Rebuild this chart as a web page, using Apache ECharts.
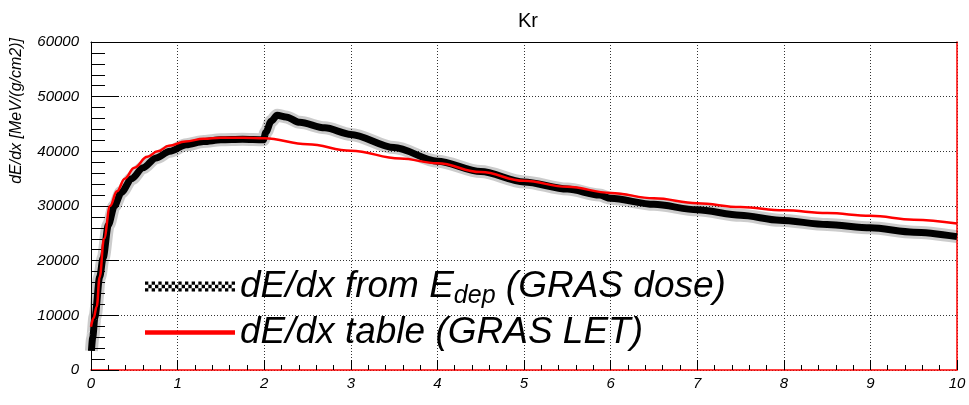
<!DOCTYPE html>
<html>
<head>
<meta charset="utf-8">
<title>Kr</title>
<script src="https://cdn.jsdelivr.net/npm/echarts@6/dist/echarts.min.js"></script>
<style>
  html, body { margin: 0; padding: 0; background: #fff; }
  #chart { width: 969px; height: 405px; }
</style>
</head>
<body>
<div id="chart"></div>
<script>
// axis ranges
const xMin = 0, xMax = 10, xStep = 1;
const yMin = 0, yMax = 60000, yStep = 10000;

// dE/dx from E_dep (GRAS dose) - centre of the scatter band
const doseEnergy = [0.005, 0.02, 0.046, 0.1, 0.14, 0.2, 0.27, 0.35, 0.47, 0.6, 0.75, 0.91, 1.1, 1.3, 1.5, 1.75, 1.99,
  2.02, 2.08, 2.15, 2.25, 2.41, 2.7, 3, 3.5, 4, 4.5, 5, 5.5, 5.87, 6, 6.5, 7, 7.5, 7.95, 8.5, 9, 9.5, 10];
const doseDedx = [3500, 6000, 9750, 17000, 20500, 26500, 30000, 32500, 35000, 37000, 38800, 40000, 41200, 41800, 42100, 42200, 42100,
  43500, 45500, 46600, 46300, 45300, 44300, 43100, 40700, 38200, 36300, 34400, 33100, 32000, 31400, 30300, 29300, 28300, 27400, 26600, 26000, 25200, 24400];

// dE/dx table (GRAS LET)
const letEnergy = [0, 0.03, 0.066, 0.1, 0.15, 0.22, 0.3, 0.39, 0.5, 0.65, 0.77, 0.9, 1.09, 1.3, 1.5, 1.75, 2,
  2.5, 3, 3.57, 4, 4.5, 5, 5.5, 6, 6.5, 7, 7.5, 8, 8.5, 9, 9.5, 10];
const letDedx = [7900, 9500, 11600, 17000, 24000, 30000, 32700, 35000, 37000, 39000, 40000, 41000, 41800, 42300, 42500, 42500, 42400,
  41300, 40100, 38700, 37800, 36200, 34600, 33500, 32400, 31400, 30500, 29800, 29200, 28700, 28200, 27500, 26800];

const doseData = doseEnergy.map((x, i) => [x, doseDedx[i]]);
const letData = letEnergy.map((x, i) => [x, letDedx[i]]);

const FONT = '"Liberation Sans", Arial, sans-serif';

function checkerPath(cols, rows) {
  let d = '';
  for (let r = 0; r < rows; r++) {
    for (let c = 0; c < cols; c++) {
      if ((r + c) % 2 === 0) d += 'M' + c + ' ' + r + 'h1v1h-1Z';
    }
  }
  return 'path://' + d;
}

const chart = echarts.init(document.getElementById('chart'), null, { renderer: 'canvas' });

chart.setOption({
  animation: false,
  backgroundColor: '#fff',
  title: {
    text: 'Kr',
    left: 513,
    top: 6,
    textStyle: { fontFamily: FONT, fontSize: 20, fontWeight: 'normal', color: '#000' }
  },
  grid: { left: 91, right: 12, top: 42, bottom: 35, outerBoundsMode: 'none' },
  legend: {
    orient: 'vertical',
    left: 140,
    top: 259,
    itemWidth: 90,
    itemHeight: 10,
    itemGap: 5,
    symbolKeepAspect: true,
    selectedMode: false,
    data: [
      { name: 'dose', icon: checkerPath(27, 3), itemStyle: { color: '#000', borderWidth: 0 } },
      { name: 'let', icon: 'path://M0 0h80v4h-80Z', itemStyle: { color: '#ff0000', borderWidth: 0 } }
    ],
    formatter: name => name === 'dose'
      ? '{t|dE/dx from E}{s|dep}{t| (GRAS dose)}'
      : '{t|dE/dx table (GRAS LET)}',
    textStyle: {
      fontFamily: FONT,
      rich: {
        t: { fontFamily: FONT, fontSize: 37, fontStyle: 'italic', color: '#000', lineHeight: 40 },
        s: { fontFamily: FONT, fontSize: 25, fontStyle: 'italic', color: '#000', lineHeight: 40, padding: [20, 0, 0, 0] }
      }
    }
  },
  xAxis: [{
    type: 'value',
    min: xMin, max: xMax, interval: xStep,
    name: 'Energy [MeV/nuc]',
    nameLocation: 'end',
    nameGap: 0,
    nameTextStyle: { fontFamily: FONT, fontSize: 14, fontStyle: 'italic', color: '#000',
      align: 'right', verticalAlign: 'top', padding: [19, 0, 0, 0] },
    axisLine: { onZero: false, lineStyle: { color: '#ff0000', width: 1.5 } },
    axisTick: { inside: true, length: 10, lineStyle: { color: '#000' } },
    minorTick: { show: true, splitNumber: 5, length: 5, lineStyle: { color: '#000' } },
    axisLabel: { margin: 6, fontFamily: FONT, fontSize: 15, fontStyle: 'italic', color: '#000' },
    splitLine: { show: true, lineStyle: { color: '#333', type: [1, 2], width: 1 } }
  }, {
    type: 'value',
    position: 'top',
    min: xMin, max: xMax,
    axisLine: { show: true, onZero: false, lineStyle: { color: '#000', width: 1 } },
    axisTick: { show: false },
    axisLabel: { show: false },
    splitLine: { show: false }
  }],
  yAxis: [{
    type: 'value',
    min: yMin, max: yMax, interval: yStep,
    name: 'dE/dx [MeV/(g/cm2)]',
    nameLocation: 'end',
    nameRotate: 90,
    nameGap: 4,
    nameTextStyle: { fontFamily: FONT, fontSize: 16, fontStyle: 'italic', color: '#000',
      align: 'right', verticalAlign: 'bottom', padding: [0, 0, 66, 0] },
    axisLine: { show: true, onZero: false, lineStyle: { color: '#000', width: 1 } },
    axisTick: { inside: true, length: 28, lineStyle: { color: '#000' } },
    minorTick: { show: true, splitNumber: 5, length: 14, lineStyle: { color: '#000' } },
    axisLabel: { margin: 12, fontFamily: FONT, fontSize: 15, fontStyle: 'italic', color: '#000',
      formatter: v => String(v) },
    splitLine: { show: true, lineStyle: { color: '#333', type: [1, 2], width: 1 } }
  }, {
    type: 'value',
    position: 'right',
    min: yMin, max: yMax,
    axisLine: { show: true, onZero: false, lineStyle: { color: '#ff0000', width: 1.5 } },
    axisTick: { show: false },
    axisLabel: { show: false },
    splitLine: { show: false }
  }],
  series: [
    {
      name: 'doseHalo',
      type: 'line',
      data: doseData,
      showSymbol: false,
      smooth: 0.3,
      smoothMonotone: 'x',
      lineStyle: { color: 'rgba(0,0,0,0.2)', width: 13 },
      silent: true,
      z: 2
    },
    {
      name: 'dose',
      type: 'line',
      data: doseData,
      showSymbol: false,
      smooth: 0.3,
      smoothMonotone: 'x',
      color: '#000',
      lineStyle: { color: '#000', width: 7 },
      silent: true,
      z: 3
    },
    {
      name: 'let',
      type: 'line',
      data: letData,
      showSymbol: false,
      smooth: 0.4,
      smoothMonotone: 'x',
      color: '#ff0000',
      lineStyle: { color: '#ff0000', width: 2.5 },
      silent: true,
      z: 4
    }
  ]
});
</script>
</body>
</html>
